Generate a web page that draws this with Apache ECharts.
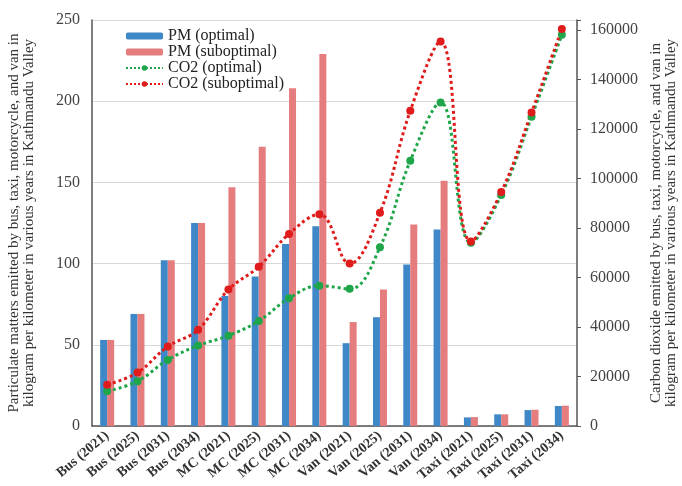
<!DOCTYPE html>
<html>
<head>
<meta charset="utf-8">
<script src="https://cdn.jsdelivr.net/npm/echarts@6/dist/echarts.min.js"></script>
<style>
  html, body { margin: 0; padding: 0; background: #fff; }
  #chart { width: 682px; height: 486px; }
</style>
</head>
<body>
<div id="chart"></div>
<script>
// categories and values
const categories = [
  'Bus (2021)', 'Bus (2025)', 'Bus (2031)', 'Bus (2034)',
  'MC (2021)', 'MC (2025)', 'MC (2031)', 'MC (2034)',
  'Van (2021)', 'Van (2025)', 'Van (2031)', 'Van (2034)',
  'Taxi (2021)', 'Taxi (2025)', 'Taxi (2031)', 'Taxi (2034)'
];
const pmOptimal = [53, 69, 102, 125, 80, 92, 112, 123, 51, 67, 99.5, 121, 5.3, 7.2, 9.8, 12.3];
const pmSuboptimal = [53, 69, 102, 125, 147, 172, 208, 229, 64, 84, 124, 151, 5.5, 7.2, 10, 12.5];
const co2Optimal = [14000, 18100, 26700, 32500, 36500, 42400, 51600, 56700, 55400, 72200, 107100, 130700, 74000, 93300, 124900, 158000];
const co2Suboptimal = [16700, 21600, 32100, 38900, 55100, 64300, 77600, 85500, 65600, 86100, 127300, 155300, 74500, 94500, 126600, 160400];

const serif = 'Liberation Serif, Times New Roman, serif';

const chart = echarts.init(document.getElementById('chart'));

const option = {
  animation: false,
  textStyle: { fontFamily: serif },
  grid: { left: 92, right: 105, top: 20, bottom: 60, outerBoundsMode: 'none', containLabel: false },
  legend: {
    orient: 'vertical',
    left: 120,
    top: 23,
    itemWidth: 37,
    itemHeight: 7,
    itemGap: 0,
    textStyle: { fontFamily: serif, fontSize: 16, lineHeight: 16, color: '#222' },
    data: ['PM (optimal)', 'PM (suboptimal)', 'CO2 (optimal)', 'CO2 (suboptimal)']
  },
  xAxis: {
    type: 'category',
    data: categories,
    axisLine: { lineStyle: { color: '#555', width: 1.5 } },
    axisTick: { show: false },
    axisLabel: {
      interval: 0,
      rotate: 40,
      fontFamily: serif,
      fontSize: 14,
      fontWeight: 'bold',
      color: '#333',
      margin: 8
    }
  },
  yAxis: [
    {
      type: 'value',
      min: 0,
      max: 250,
      interval: 50,
      position: 'left',
      name: 'Particulate matters emitted by bus, taxi, motorcycle, and van in\nkilogram per kilometer in various years in Kathmandu Valley',
      nameLocation: 'middle',
      nameGap: 55,
      nameTextStyle: { fontFamily: serif, fontSize: 15, color: '#333', lineHeight: 15 },
      axisLine: { show: true, lineStyle: { color: '#555', width: 1.5 } },
      axisTick: { show: false },
      axisLabel: { fontFamily: serif, fontSize: 16, color: '#444', margin: 12 },
      splitLine: { lineStyle: { color: '#d9d9d9', width: 1 } }
    },
    {
      type: 'value',
      min: 0,
      max: 164000,
      interval: 20000,
      position: 'right',
      name: 'Carbon dioxide emitted by bus, taxi, motorcycle, and van in\nkilogram per kilometer in various years in Kathmandu Valley',
      nameLocation: 'middle',
      nameGap: 65,
      nameRotate: 90,
      nameTextStyle: { fontFamily: serif, fontSize: 15, color: '#333', lineHeight: 15 },
      axisLine: { show: true, lineStyle: { color: '#555', width: 1.5 } },
      axisTick: { show: true, inside: false, length: 4, lineStyle: { color: '#555' } },
      axisLabel: {
        fontFamily: serif,
        fontSize: 16,
        color: '#444',
        margin: 13,
        formatter: v => (v % 20000 === 0 ? String(v) : '')
      },
      splitLine: { show: false }
    }
  ],
  series: [
    {
      name: 'PM (optimal)',
      type: 'bar',
      yAxisIndex: 0,
      data: pmOptimal,
      barWidth: 7,
      barGap: '0%',
      itemStyle: { color: '#3f88c8' }
    },
    {
      name: 'PM (suboptimal)',
      type: 'bar',
      yAxisIndex: 0,
      data: pmSuboptimal,
      barWidth: 7,
      itemStyle: { color: '#e57d7f' }
    },
    {
      name: 'CO2 (optimal)',
      type: 'line',
      yAxisIndex: 1,
      data: co2Optimal,
      smooth: 0.4,
      symbol: 'circle',
      symbolSize: 8,
      lineStyle: { color: '#1fa64a', width: 3, type: 'dotted' },
      itemStyle: { color: '#1fa64a' }
    },
    {
      name: 'CO2 (suboptimal)',
      type: 'line',
      yAxisIndex: 1,
      data: co2Suboptimal,
      smooth: 0.4,
      symbol: 'circle',
      symbolSize: 8,
      lineStyle: { color: '#e01b1b', width: 3, type: 'dotted' },
      itemStyle: { color: '#e01b1b' }
    }
  ]
};

chart.setOption(option);
</script>
</body>
</html>
